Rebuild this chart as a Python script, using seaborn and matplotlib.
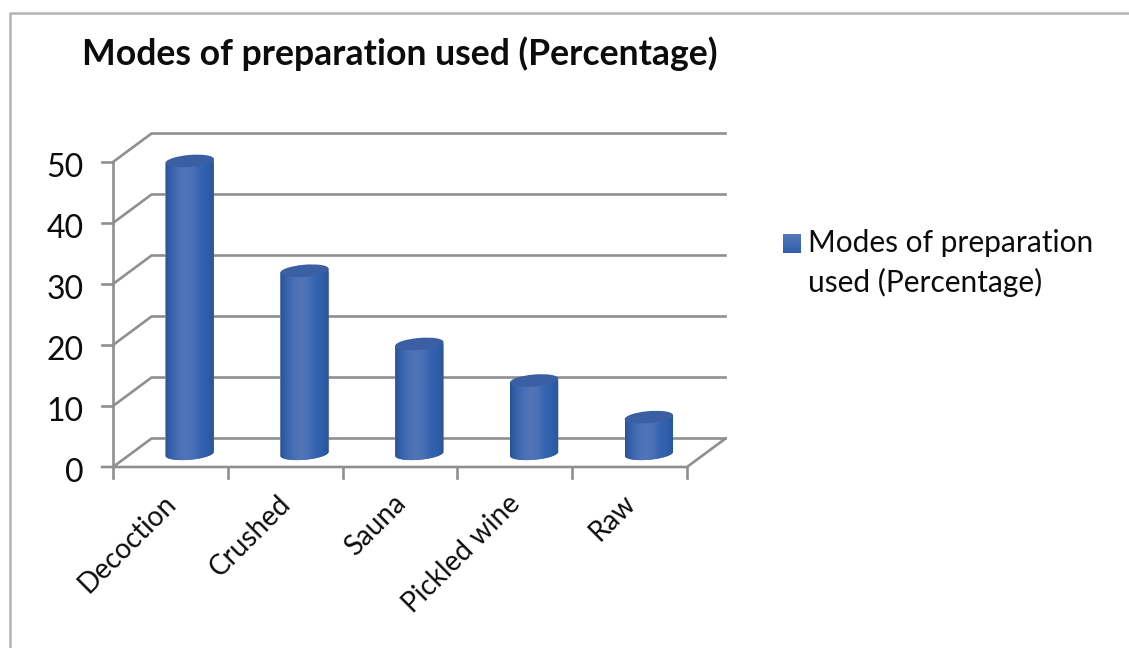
import numpy as np
import pandas as pd
import matplotlib
matplotlib.use("Agg")
import matplotlib.pyplot as plt
import seaborn as sns
from matplotlib.colors import LinearSegmentedColormap
from matplotlib.lines import Line2D
from matplotlib.patches import Ellipse, Patch, PathPatch
from matplotlib.path import Path
from matplotlib.transforms import Affine2D, IdentityTransform

categories = ["Decoction", "Crushed", "Sauna", "Pickled wine", "Raw"]
percentages = [48, 30, 18, 12, 6]
y_ticks = [0, 10, 20, 30, 40, 50]
chart_title = "Modes of preparation used (Percentage)"
series_name = "Modes of preparation\nused (Percentage)"

W, H = 1129, 648
DPI = 100
GRID = "#8f8f8f"
FRAME = "#b4b4b8"
TEXT = "#0c0c0c"
FONT = "Lato"

# Pseudo-3D depth of the plot box, in pixels
DEPTH_X, DEPTH_Y = 38.5, 28.5
BAR_DX, BAR_DY = DEPTH_X / 2, DEPTH_Y / 2 - 1
BAR_W_PX = 48.5
CAP_H_PX = 12.0
TILT = 5.0

sns.set_theme(style="white")
plt.rcParams["font.family"] = [FONT, "DejaVu Sans"]

fig = plt.figure(figsize=(W / DPI, H / DPI), dpi=DPI, facecolor="white")
ax = fig.add_axes([113 / W, 1 - 467 / H, 574 / W, 305 / H])

data = pd.DataFrame({"category": categories, "value": percentages})
sns.barplot(data=data, x="category", y="value", ax=ax, color="#3a66ae",
            width=BAR_W_PX / (574 / 5), zorder=3, saturation=1)
ax.set_xlim(-0.5, 4.5)
ax.set_ylim(0, 50)
ax.set_xlabel("")
ax.set_ylabel("")
ax.patch.set_alpha(0)
for spine in ax.spines.values():
    spine.set_visible(False)


def box_line(xs, ys):
    """Add a wall, floor or tick line in pixel coordinates, behind the axes."""
    fig.add_artist(Line2D(xs, ys, transform=IdentityTransform(), color=GRID,
                          lw=1.9, zorder=-1, solid_capstyle="projecting"))


# Back wall and side wall gridlines, plus the floor outline
for v in y_ticks:
    x0, y0 = ax.transData.transform((-0.5, v))
    x1, _ = ax.transData.transform((4.5, v))
    box_line([x0, x0 + DEPTH_X, x1 + DEPTH_X], [y0, y0 + DEPTH_Y, y0 + DEPTH_Y])
x0, y0 = ax.transData.transform((-0.5, 0))
x1, y1 = ax.transData.transform((4.5, 50))
box_line([x0, x0], [y0 - 11, y1])
box_line([x0 - 11, x1, x1 + DEPTH_X], [y0, y0, y0 + DEPTH_Y])
for v in y_ticks[1:]:
    _, yv = ax.transData.transform((0, v))
    box_line([x0 - 11, x0], [yv, yv])
for k in range(1, 6):
    xk = x0 + k * (x1 - x0) / 5
    box_line([xk, xk], [y0 - 11, y0])

ax.set_yticks(y_ticks)
ax.set_yticklabels([str(v) for v in y_ticks], fontsize=23, color=TEXT)
ax.set_xticks(range(len(categories)))
ax.set_xticklabels(categories, rotation=45, ha="right", rotation_mode="anchor",
                   fontsize=20, color=TEXT)
ax.tick_params(axis="y", length=0, pad=21)
ax.tick_params(axis="x", length=0, pad=16)
for label in ax.get_yticklabels():
    label.set_transform(label.get_transform() + Affine2D().translate(0, -3))
for label in ax.get_xticklabels():
    label.set_transform(label.get_transform() + Affine2D().translate(-8, -1))

side_cmap = LinearSegmentedColormap.from_list(
    "cylinder", ["#2a5297", "#3765ae", "#4a6fb5", "#5275b9", "#4a6fb6", "#3565b0",
                 "#2f5fab", "#2b5596"])
cap_color = "#3a5fa3"

# Each bar is moved half the depth into the box and shaded as a cylinder
gradient = np.linspace(0, 1, 128).reshape(1, -1)
half_w = BAR_W_PX / 2
half_cap = CAP_H_PX / 2
rot = np.radians(TILT)
for bar, value in zip(ax.patches, percentages):
    cx_data = bar.get_x() + bar.get_width() / 2
    half_data = bar.get_width() / 2
    px, py0 = ax.transData.transform((cx_data, 0))
    _, py1 = ax.transData.transform((cx_data, value))
    px += BAR_DX
    py0 += BAR_DY
    py1 += BAR_DY
    offset = ax.transData + Affine2D().translate(BAR_DX, BAR_DY)

    # Outline of the cylinder: rising top edge, sides and curved base
    t = np.linspace(np.pi, 2 * np.pi, 60)
    ex = half_w * np.cos(t)
    ey = half_cap * np.sin(t)
    base_x = px + ex * np.cos(rot) - ey * np.sin(rot)
    base_y = py0 + ex * np.sin(rot) + ey * np.cos(rot)
    top_x = px + half_w * np.cos(rot) * np.array([1, -1])
    top_y = py1 + half_w * np.sin(rot) * np.array([1, -1])
    verts = np.column_stack([np.r_[base_x, top_x], np.r_[base_y, top_y]])
    clip = PathPatch(Path(np.vstack([verts, verts[0]]), closed=True),
                     transform=IdentityTransform(), facecolor="none", edgecolor="none")

    # The bar is stretched slightly downward so the curved base stays covered
    bar.set_y(-half_cap / 6.1 - 1)
    bar.set_height(value + half_cap / 6.1 + 1)
    bar.set_transform(offset)
    bar.set_clip_box(fig.bbox)
    bar.set_clip_path(clip)

    im = ax.imshow(gradient, cmap=side_cmap, aspect="auto", zorder=4,
                   extent=[cx_data - half_data, cx_data + half_data, -5, 60])
    im.set_transform(offset)
    im.set_clip_box(fig.bbox)
    im.set_clip_path(clip)
    cap = Ellipse((px, py1), BAR_W_PX, CAP_H_PX, angle=TILT, facecolor=cap_color,
                  edgecolor="none", transform=IdentityTransform(), zorder=5)
    ax.add_artist(cap)
    cap.set_clip_on(False)

ax.set_xlim(-0.5, 4.5)
ax.set_ylim(0, 50)

# Chart frame: only the top and left edges show
fig.add_artist(Line2D([10 / W, 10 / W, 1], [0, 1 - 13 / H, 1 - 13 / H],
                      transform=fig.transFigure, color=FRAME, lw=1.8))

fig.text(82 / W, 1 - 65 / H, chart_title, fontsize=25.7, fontweight="bold",
         color=TEXT, ha="left", va="baseline")

handle = Patch(facecolor="#3f69b2", edgecolor="none")
legend = ax.legend([handle], [series_name], loc="upper left",
                   bbox_to_anchor=(783 / W, 1 - 229 / H), bbox_transform=fig.transFigure,
                   frameon=False, fontsize=21.5, labelcolor=TEXT, handlelength=0.6,
                   handleheight=0.6, handletextpad=0.23, borderpad=0, borderaxespad=0,
                   labelspacing=0)
for t in legend.get_texts():
    t.set_linespacing(1.45)

# Raise the key beside the first line and give it a soft vertical shade
key = legend.legend_handles[0]
key.set_y(key.get_y() + 14.5)
fig.canvas.draw()
bb = key.get_window_extent()
kw, kh = int(round(bb.width)), int(round(bb.height))
shade = LinearSegmentedColormap.from_list("key", ["#5578bb", "#2f5faa"])
key_img = shade(np.linspace(0, 1, kh))[:, None, :3].repeat(kw, axis=1)
fig.figimage(key_img, xo=int(round(bb.x0)), yo=int(round(bb.y0)), origin="upper", zorder=10)

fig.savefig("out.png", dpi=DPI, facecolor="white")
